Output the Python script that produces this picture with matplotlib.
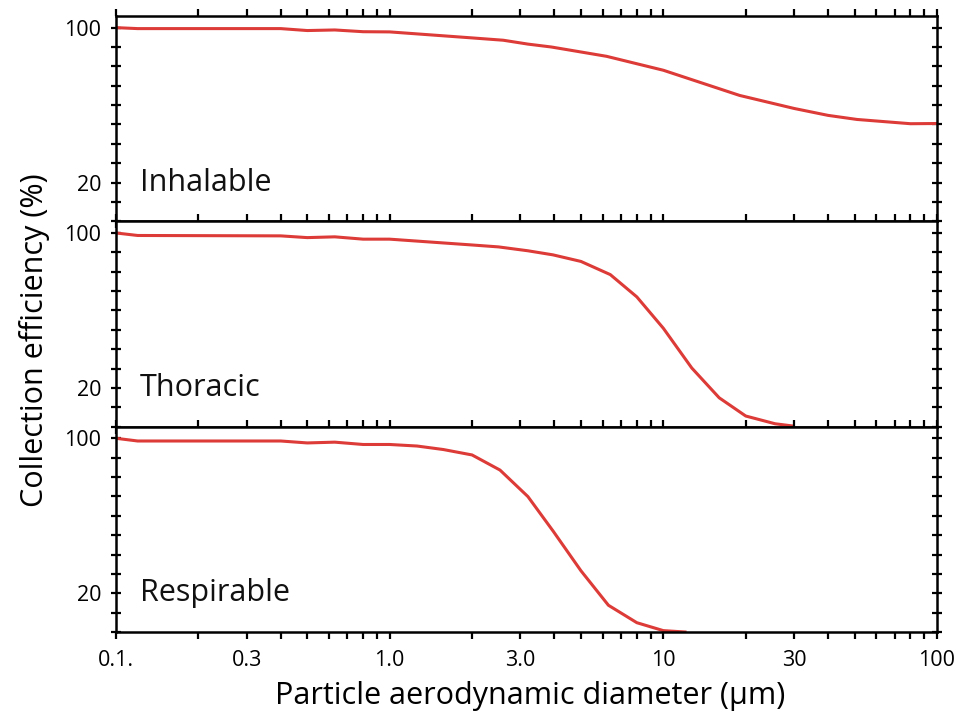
import numpy as np
import matplotlib.pyplot as plt
from matplotlib.ticker import FixedLocator, NullFormatter

plt.rcParams['font.family'] = ['Open Sans', 'DejaVu Sans']

# particle size (um) and collection efficiency (%)
inh_d = [0.1, 0.12, 0.4, 0.5, 0.63, 0.8, 1.0, 2.0, 2.6, 3.2, 3.9, 6.2, 10, 19, 30, 40, 51, 80, 100]
inh_v = [100, 99.5, 99.5, 98.5, 98.8, 97.9, 97.8, 94.7, 93.5, 91.5, 90, 85.2, 78, 65, 58.3, 54.7, 52.6, 50.4, 50.5]

tho_d = [0.1, 0.12, 0.4, 0.5, 0.63, 0.8, 1.0, 2.0, 2.5, 3.2, 3.95, 5.0, 6.4, 8.0, 10, 12.7, 16, 20, 25.6, 29.5]
tho_v = [100, 98.7, 98.5, 97.6, 98, 96.8, 96.8, 93.8, 92.8, 90.8, 88.7, 85.3, 78.5, 67, 50.8, 30.3, 14.9, 5.5, 1.5, 0.4]

res_d = [0.1, 0.12, 0.4, 0.5, 0.63, 0.8, 1.0, 1.26, 1.57, 2.0, 2.53, 3.2, 3.96, 5.0, 6.3, 8.0, 10, 12]
res_v = [100, 98.6, 98.6, 97.6, 98, 96.8, 96.8, 96, 94.2, 91.4, 83.6, 69.9, 52, 31.6, 13.8, 4.8, 0.7, 0]

labels = ['Inhalable', 'Thoracic', 'Respirable']
x_major = [0.1, 0.3, 1, 3, 10, 30, 100]
x_labels = ['0.1.', '0.3', '1.0', '3.0', '10', '30', '100']
x_minor = [k * 10.0 ** e for e in (-1, 0, 1) for k in (2, 4, 5, 6, 7, 8, 9)]

fig = plt.figure(figsize=(9.65, 7.15), dpi=100)
axes = fig.subplots(3, 1, sharex=True)
fig.subplots_adjust(left=0.1202, right=0.971, bottom=0.1161, top=0.9776, hspace=0)

line_color = '#dc3b37'
for ax, (d, v), name in zip(axes, [(inh_d, inh_v), (tho_d, tho_v), (res_d, res_v)], labels):
    ax.plot(d, v, color=line_color, lw=2.2, solid_joinstyle='round')
    ax.set_xscale('log')
    ax.set_xlim(0.1, 100)
    ax.set_ylim(0, 106)
    ax.xaxis.set_major_locator(FixedLocator(x_major))
    ax.xaxis.set_minor_locator(FixedLocator(x_minor))
    ax.xaxis.set_minor_formatter(NullFormatter())
    ax.set_yticks([20, 100])
    ax.set_yticklabels(['20', '100'])
    ax.yaxis.set_minor_locator(FixedLocator(np.arange(0, 101, 10)))
    ax.tick_params(axis='x', which='both', direction='out', top=True, bottom=True,
                   length=5, width=1.6, labelsize=15.5, pad=8)
    ax.tick_params(axis='y', which='both', direction='inout', left=True, right=True,
                   length=7, width=1.6, labelsize=15.5, pad=7)
    for s in ax.spines.values():
        s.set_linewidth(1.8)
    ax.text(0.122, 20, name, fontsize=22, va='center', ha='left', color='#111111')

axes[-1].set_xticklabels(x_labels)
for ax in axes[:-1]:
    ax.tick_params(axis='x', labelbottom=False)

fig.text(0.036, 1 - 340 / 715, 'Collection efficiency (%)', rotation=90,
         ha='center', va='center', fontsize=22)
fig.text(530 / 965, 1 - 696 / 715, 'Particle aerodynamic diameter (µm)',
         ha='center', va='center', fontsize=22)

fig.savefig('out.png', dpi=100)
